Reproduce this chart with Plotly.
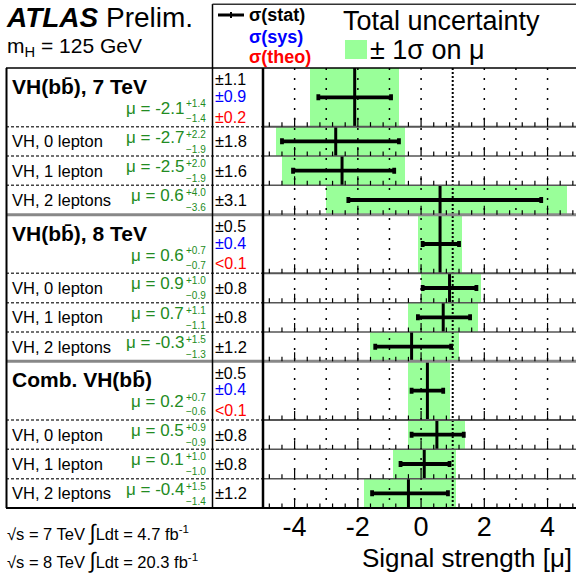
import plotly.graph_objects as go

# ---------------- data ----------------
labels = ["VH(bb\u0304), 7 TeV", "VH, 0 lepton", "VH, 1 lepton", "VH, 2 leptons",
          "VH(bb\u0304), 8 TeV", "VH, 0 lepton", "VH, 1 lepton", "VH, 2 leptons",
          "Comb. VH(bb\u0304)", "VH, 0 lepton", "VH, 1 lepton", "VH, 2 leptons"]
is_header = [True, False, False, False, True, False, False, False, True, False, False, False]
mu = [-2.1, -2.7, -2.5, 0.6, 0.6, 0.9, 0.7, -0.3, 0.2, 0.5, 0.1, -0.4]
tot_hi = [1.4, 2.2, 2.0, 4.0, 0.7, 1.0, 1.1, 1.5, 0.7, 0.9, 1.0, 1.5]
tot_lo = [1.4, 1.9, 1.9, 3.6, 0.7, 0.9, 1.1, 1.3, 0.6, 0.9, 1.0, 1.4]
stat_hi = [1.15, 2.0, 1.65, 3.2, 0.6, 0.85, 0.85, 1.25, 0.5, 0.85, 0.8, 1.25]
stat_lo = [1.15, 1.7, 1.55, 2.9, 0.55, 0.85, 0.8, 1.15, 0.5, 0.8, 0.75, 1.15]
stat_txt = ["\u00b11.1", "\u00b11.8", "\u00b11.6", "\u00b13.1", "\u00b10.5", "\u00b10.8",
            "\u00b10.8", "\u00b11.2", "\u00b10.5", "\u00b10.8", "\u00b10.8", "\u00b11.2"]
header_sys = ["\u00b10.9", "\u00b10.4", "\u00b10.4"]
header_theo = ["\u00b10.2", "<0.1", "<0.1"]
major_ticks = [-4, -2, 0, 2, 4]
tick_text = ["-4", "-2", "0", "2", "4"]
grid_vals = [-4, -3, -2, -1, 0, 2, 3, 4]
sm_value = 1

# ---------------- geometry ----------------
W, H = 576, 575
TOP, BOT = 68, 508
heights = [2 if h else 1 for h in is_header]
tops = []
t = 0
for h in heights:
    tops.append(t)
    t += h
NU = t
PPU = (BOT - TOP) / NU
centers = [tp + h / 2 for tp, h in zip(tops, heights)]
FONT = "Liberation Sans, Arial, sans-serif"
GREEN_TXT = "#228b22"


def py(u):
    return TOP + u * PPU


def ann(text, xpx, ypx, size, color="black", anchor="left"):
    return dict(text=text, xref="paper", yref="paper", x=xpx / W, y=1 - ypx / H,
                xanchor=anchor, yanchor="middle", showarrow=False,
                font=dict(size=size, color=color, family=FONT))


def hline(ypx, x0, x1, color, width, dash="solid"):
    return dict(type="line", xref="paper", yref="paper", x0=x0 / W, x1=x1 / W,
                y0=1 - ypx / H, y1=1 - ypx / H,
                line=dict(color=color, width=width, dash=dash), layer="above")


def vline(xpx, y0px, y1px, color, width):
    return dict(type="line", xref="paper", yref="paper", x0=xpx / W, x1=xpx / W,
                y0=1 - y0px / H, y1=1 - y1px / H,
                line=dict(color=color, width=width), layer="above")


fig = go.Figure()
fig.add_trace(go.Bar(
    y=centers, x=[lo + hi for lo, hi in zip(tot_lo, tot_hi)],
    base=[m - lo for m, lo in zip(mu, tot_lo)], width=heights, orientation="h",
    marker=dict(color="#99ff99", line=dict(width=0)), showlegend=False, hoverinfo="skip"))
fig.add_trace(go.Scatter(
    x=mu, y=centers, mode="markers", marker=dict(size=2, color="black"),
    error_x=dict(type="data", symmetric=False, array=stat_hi, arrayminus=stat_lo,
                 thickness=3.8, width=3, color="black"),
    error_y=dict(type="data", symmetric=True, array=[h / 2 for h in heights],
                 thickness=3, width=0, color="black"),
    showlegend=False, hoverinfo="skip"))

shapes = []
# grid lines
for g in grid_vals:
    shapes.append(dict(type="line", xref="x", yref="y", x0=g, x1=g, y0=0, y1=NU,
                       line=dict(color="black", width=1.5, dash="2px,8px"), layer="above"))
shapes.append(dict(type="line", xref="x", yref="y", x0=sm_value, x1=sm_value, y0=0, y1=NU,
                   line=dict(color="black", width=2, dash="2px,2px"), layer="above"))

# row separators and ticks
for i in range(len(labels)):
    b = tops[i] + heights[i]
    bpx = py(b)
    block_end = (i + 1 < len(labels) and is_header[i + 1])
    if b == NU:
        shapes.append(hline(bpx, 6, W, "black", 2))
    elif block_end:
        shapes.append(hline(bpx, 6, W, "#888888", 3))
    else:
        shapes.append(hline(bpx, 6, 263, "#444444", 1.5, "3px,2px"))
        shapes.append(hline(bpx, 263, W, "#555555", 2 if is_header[i] else 1.5))
    for k in range(-12, 13):
        v = 0.4 * k
        if v <= -5 or v >= 4.9:
            continue
        ln = 9 if k % 5 == 0 else 4.5
        shapes.append(dict(type="line", xref="x", yref="y", x0=v, x1=v, y0=b, y1=b - ln / PPU,
                           line=dict(color="black", width=1.2), layer="above"))

shapes.append(hline(TOP, 6, W, "black", 1.5))
shapes.append(vline(6.5, TOP, BOT, "black", 2))
shapes.append(vline(212.5, 4, BOT, "black", 1.5))
shapes.append(vline(263, TOP, BOT, "black", 2.5))
shapes.append(hline(4.3, 212.5, W, "#333333", 1.5))
# legend symbols
shapes.append(hline(15, 218, 244, "black", 3))
shapes.append(vline(231, 12, 18, "black", 2))
shapes.append(dict(type="rect", xref="paper", yref="paper", x0=345 / W, x1=367 / W,
                   y0=1 - 59 / H, y1=1 - 40 / H, fillcolor="#99ff99", line=dict(width=0)))

annotations = []
annotations.append(ann("<b><i>ATLAS</i></b> Prelim.", 4, 17, 28))
annotations.append(ann("m<sub>H</sub> = 125 GeV", 5, 47, 21))
annotations.append(ann("<b>\u03c3(stat)</b>", 247, 15, 18))
annotations.append(ann("<b>\u03c3(sys)</b>", 247, 37, 18, "#0000ff"))
annotations.append(ann("<b>\u03c3(theo)</b>", 247, 57, 18, "#ff0000"))
annotations.append(ann("Total uncertainty", 341, 21, 27))
annotations.append(ann("\u00b1 1\u03c3 on \u03bc", 368, 50, 27))
annotations.append(ann("\u221as = 7 TeV <span style='font-size:22px'>\u222b</span>Ldt = 4.7 fb<sup>-1</sup>",
                       5, 532, 16.5))
annotations.append(ann("\u221as = 8 TeV <span style='font-size:22px'>\u222b</span>Ldt = 20.3 fb<sup>-1</sup>",
                       5, 560, 16.5))
annotations.append(ann("Signal strength [\u03bc]", 574, 558, 26, anchor="right"))

hi_idx = 0
for i, lab in enumerate(labels):
    top_px = py(tops[i])
    mtxt = f"\u03bc = {mu[i]:.1f}"
    sup = f"+{tot_hi[i]:.1f}"
    sub = f"\u2212{tot_lo[i]:.1f}"
    if is_header[i]:
        annotations.append(ann(f"<b>{lab}</b>", 10, top_px + 18.5, 21))
        annotations.append(ann(mtxt, 186, top_px + 40.5, 17, GREEN_TXT, "right"))
        annotations.append(ann(sup, 184, top_px + 36, 10, GREEN_TXT))
        annotations.append(ann(sub, 184, top_px + 50.5, 10, GREEN_TXT))
        annotations.append(ann(stat_txt[i], 213, top_px + 12, 16))
        annotations.append(ann(header_sys[hi_idx], 213, top_px + 28.5, 16, "#0000ff"))
        annotations.append(ann(header_theo[hi_idx], 213, top_px + 49, 16, "#ff0000"))
        hi_idx += 1
    else:
        annotations.append(ann(lab, 10, top_px + PPU / 2, 16.5))
        annotations.append(ann(mtxt, 186, top_px + 10.5, 17, GREEN_TXT, "right"))
        annotations.append(ann(sup, 184, top_px + 7.5, 10, GREEN_TXT))
        annotations.append(ann(sub, 184, top_px + 22.5, 10, GREEN_TXT))
        annotations.append(ann(stat_txt[i], 213, top_px + PPU / 2, 16.5))

fig.update_layout(
    width=W, height=H, margin=dict(l=0, r=0, t=0, b=0),
    paper_bgcolor="white", plot_bgcolor="white",
    xaxis=dict(domain=[263 / W, 1], range=[-5, 4.9], showgrid=False, zeroline=False,
               tickvals=major_ticks, ticktext=tick_text, ticks="",
               tickfont=dict(size=27, family=FONT, color="black"), showline=False),
    yaxis=dict(domain=[1 - BOT / H, 1 - TOP / H], range=[NU, 0], showgrid=False,
               zeroline=False, showticklabels=False, showline=False),
    shapes=shapes, annotations=annotations, bargap=0, showlegend=False,
)
fig.write_html("out.html")
